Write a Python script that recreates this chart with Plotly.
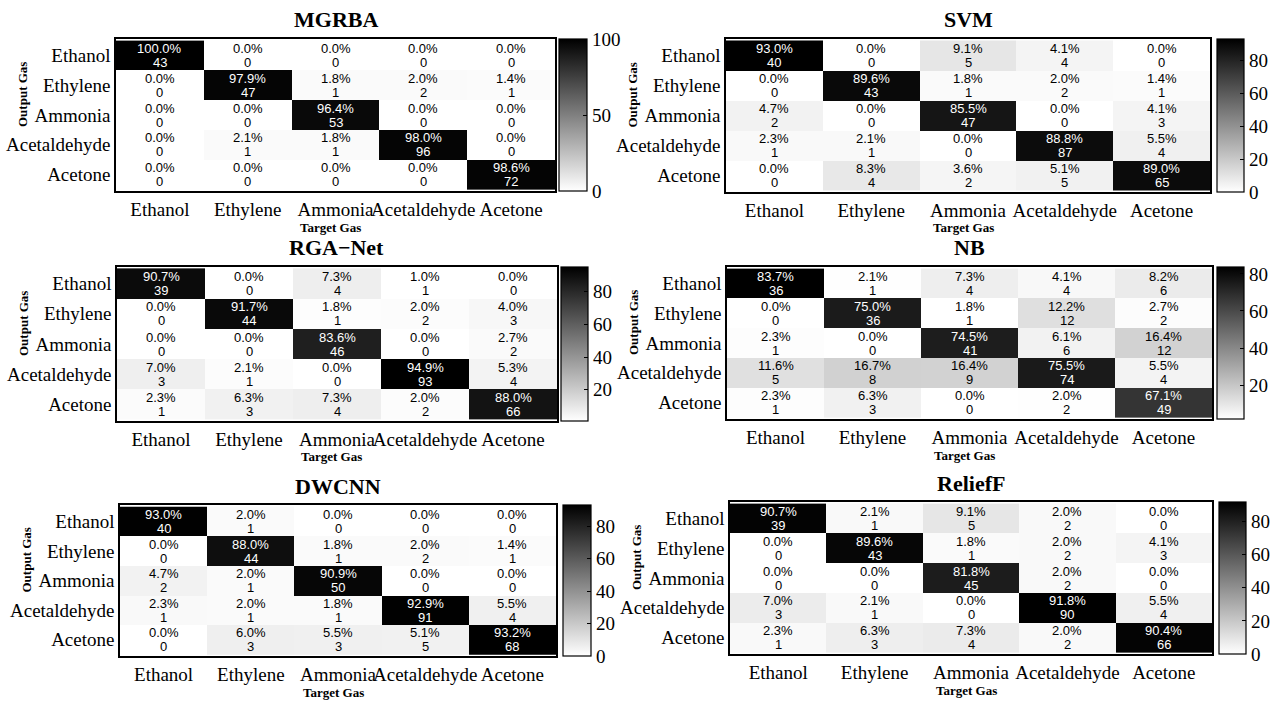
import plotly.graph_objects as go

W, H = 1278, 702

gases = ["Ethanol", "Ethylene", "Ammonia", "Acetaldehyde", "Acetone"]

# Percentages (rows: output gas, columns: target gas)
mgrba_pct = [[100.0, 0.0, 0.0, 0.0, 0.0],
             [0.0, 97.9, 1.8, 2.0, 1.4],
             [0.0, 0.0, 96.4, 0.0, 0.0],
             [0.0, 2.1, 1.8, 98.0, 0.0],
             [0.0, 0.0, 0.0, 0.0, 98.6]]
mgrba_cnt = [[43, 0, 0, 0, 0],
             [0, 47, 1, 2, 1],
             [0, 0, 53, 0, 0],
             [0, 1, 1, 96, 0],
             [0, 0, 0, 0, 72]]

svm_pct = [[93.0, 0.0, 9.1, 4.1, 0.0],
           [0.0, 89.6, 1.8, 2.0, 1.4],
           [4.7, 0.0, 85.5, 0.0, 4.1],
           [2.3, 2.1, 0.0, 88.8, 5.5],
           [0.0, 8.3, 3.6, 5.1, 89.0]]
svm_cnt = [[40, 0, 5, 4, 0],
           [0, 43, 1, 2, 1],
           [2, 0, 47, 0, 3],
           [1, 1, 0, 87, 4],
           [0, 4, 2, 5, 65]]

rga_pct = [[90.7, 0.0, 7.3, 1.0, 0.0],
           [0.0, 91.7, 1.8, 2.0, 4.0],
           [0.0, 0.0, 83.6, 0.0, 2.7],
           [7.0, 2.1, 0.0, 94.9, 5.3],
           [2.3, 6.3, 7.3, 2.0, 88.0]]
rga_cnt = [[39, 0, 4, 1, 0],
           [0, 44, 1, 2, 3],
           [0, 0, 46, 0, 2],
           [3, 1, 0, 93, 4],
           [1, 3, 4, 2, 66]]

nb_pct = [[83.7, 2.1, 7.3, 4.1, 8.2],
          [0.0, 75.0, 1.8, 12.2, 2.7],
          [2.3, 0.0, 74.5, 6.1, 16.4],
          [11.6, 16.7, 16.4, 75.5, 5.5],
          [2.3, 6.3, 0.0, 2.0, 67.1]]
nb_cnt = [[36, 1, 4, 4, 6],
          [0, 36, 1, 12, 2],
          [1, 0, 41, 6, 12],
          [5, 8, 9, 74, 4],
          [1, 3, 0, 2, 49]]

dwcnn_pct = [[93.0, 2.0, 0.0, 0.0, 0.0],
             [0.0, 88.0, 1.8, 2.0, 1.4],
             [4.7, 2.0, 90.9, 0.0, 0.0],
             [2.3, 2.0, 1.8, 92.9, 5.5],
             [0.0, 6.0, 5.5, 5.1, 93.2]]
dwcnn_cnt = [[40, 1, 0, 0, 0],
             [0, 44, 1, 2, 1],
             [2, 1, 50, 0, 0],
             [1, 1, 1, 91, 4],
             [0, 3, 3, 5, 68]]

relieff_pct = [[90.7, 2.1, 9.1, 2.0, 0.0],
               [0.0, 89.6, 1.8, 2.0, 4.1],
               [0.0, 0.0, 81.8, 2.0, 0.0],
               [7.0, 2.1, 0.0, 91.8, 5.5],
               [2.3, 6.3, 7.3, 2.0, 90.4]]
relieff_cnt = [[39, 1, 5, 2, 0],
               [0, 43, 1, 2, 3],
               [0, 0, 45, 2, 0],
               [3, 1, 0, 90, 4],
               [1, 3, 4, 2, 66]]

titles = ["MGRBA", "SVM", "RGA\u2212Net", "NB", "DWCNN", "ReliefF"]
pcts = [mgrba_pct, svm_pct, rga_pct, nb_pct, dwcnn_pct, relieff_pct]
cnts = [mgrba_cnt, svm_cnt, rga_cnt, nb_cnt, dwcnn_cnt, relieff_cnt]
cmins = [0, 0, 1.0, 1.8, 0, 0]
cbar_dticks = [50, 20, 20, 20, 20, 20]

# Panel geometry in pixels: heatmap left, right, top, bottom; colorbar left, right
boxes = [
    (116, 555, 39, 191, 559, 587),
    (726, 1210, 39, 192, 1217, 1244),
    (117, 557, 267, 421, 561, 588),
    (727, 1212, 267, 419, 1217, 1244),
    (120, 556, 505, 656, 563, 591),
    (730, 1212, 502, 654, 1219, 1246),
]

SERIF = "Liberation Serif, Times New Roman, serif"
SANS = "Liberation Sans, Arial, sans-serif"

gray_scale = [[0.0, "#ffffff"], [1.0, "#000000"]]

fig = go.Figure()
annotations = []
layout_axes = {}


def paper_text(px, py, text, size, angle=0):
    return dict(
        x=px / W, y=1 - py / H, xref="paper", yref="paper",
        xanchor="center", yanchor="middle",
        text=text, showarrow=False, textangle=angle,
        font=dict(family=SERIF, size=size, color="black"),
    )


for k in range(6):
    xl, xr, yt, yb, cl, cr = boxes[k]
    xs = "" if k == 0 else str(k + 1)
    xref, yref = "x" + xs, "y" + xs
    pct, cnt = pcts[k], cnts[k]
    zmax = max(max(r) for r in pct)
    zmin = cmins[k]

    fig.add_trace(go.Heatmap(
        z=pct, x=gases, y=gases, xaxis=xref, yaxis=yref,
        colorscale=gray_scale, zmin=zmin, zmax=zmax,
        hoverinfo="skip",
        colorbar=dict(
            x=cl / W, xanchor="left", y=1 - yt / H, yanchor="top",
            len=yb - yt, lenmode="pixels",
            thickness=cr - cl, thicknessmode="pixels",
            outlinewidth=1.2, outlinecolor="black",
            ticks="inside", ticklen=4, tickcolor="black",
            tick0=0, dtick=cbar_dticks[k],
            tickfont=dict(family=SERIF, size=19, color="black"),
            xpad=0, ypad=0,
        ),
    ))

    layout_axes["xaxis" + xs] = dict(
        domain=[xl / W, xr / W], anchor=yref, type="category",
        showline=True, mirror=True, linecolor="black", linewidth=1.5,
        ticks="", showgrid=False, zeroline=False, tickangle=0,
        automargin=False,
        tickfont=dict(family=SERIF, size=19, color="black"),
        fixedrange=True,
    )
    layout_axes["yaxis" + xs] = dict(
        domain=[1 - yb / H, 1 - yt / H], anchor=xref, type="category",
        autorange="reversed", automargin=False,
        showline=True, mirror=True, linecolor="black", linewidth=1.5,
        ticks="", showgrid=False, zeroline=False,
        tickfont=dict(family=SERIF, size=19, color="black"),
        fixedrange=True,
    )

    # cell labels: percentage above, count below
    for i, row_g in enumerate(gases):
        for j, col_g in enumerate(gases):
            v = pct[i][j]
            frac = (v - zmin) / (zmax - zmin)
            col = "white" if frac > 0.5 else "black"
            annotations.append(dict(
                x=col_g, y=row_g, xref=xref, yref=yref,
                text=f"{v:.1f}%", showarrow=False, yshift=7,
                font=dict(family=SANS, size=13, color=col),
            ))
            annotations.append(dict(
                x=col_g, y=row_g, xref=xref, yref=yref,
                text=f"{cnt[i][j]}", showarrow=False, yshift=-7,
                font=dict(family=SANS, size=13, color=col),
            ))

    # panel title and axis titles
    annotations.append(paper_text((xl + xr) / 2, yt - 19, f"<b>{titles[k]}</b>", 22))
    annotations.append(paper_text((xl + xr) / 2 - 5, yb + 36, "<b>Target Gas</b>", 13))
    annotations.append(paper_text(xl - 94, (yt + yb) / 2 - 20, "<b>Output Gas</b>", 13, -90))

fig.update_layout(
    width=W, height=H,
    margin=dict(l=0, r=0, t=0, b=0, autoexpand=False),
    paper_bgcolor="white", plot_bgcolor="white",
    showlegend=False,
    annotations=annotations,
    **layout_axes,
)

fig.write_html("out.html", config={"displayModeBar": False})
